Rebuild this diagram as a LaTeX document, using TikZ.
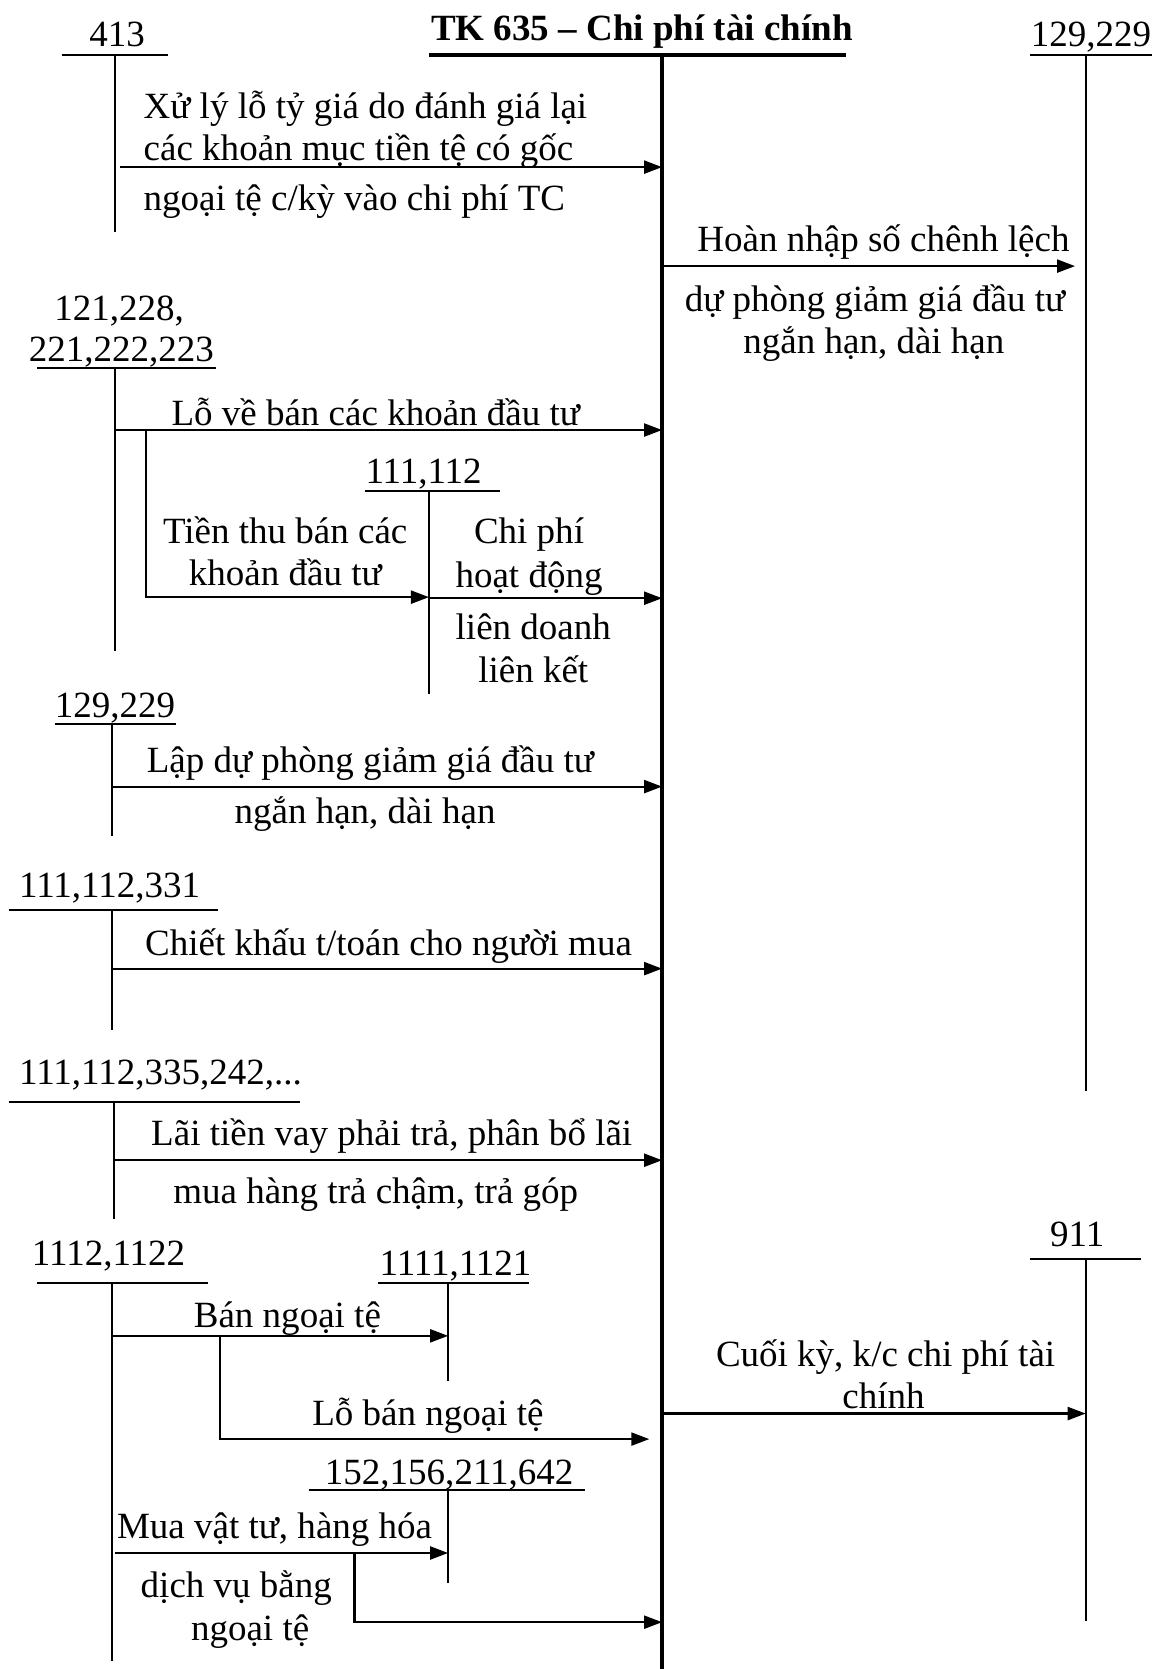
\documentclass[tikz,border=0pt]{standalone}
\usepackage{fontspec}
\setmainfont{Liberation Serif}
\usetikzlibrary{arrows.meta}
\begin{document}
\begin{tikzpicture}[x=1.0642pt,y=-1.0642pt,
  txt/.style={inner sep=0pt,outer sep=0pt,font=\fontsize{37}{42}\selectfont,anchor=base},
  txtl/.style={txt,anchor=base west},
  tl/.style={line width=2.2pt},
  tk/.style={line width=4pt},
  arr/.style={tl,-{Triangle[length=18pt,width=13pt]}}]
\useasboundingbox (0,0) rectangle (1090,1568);

% main account TK 635
\node[txt,font=\fontsize{37}{42}\selectfont\bfseries] (title) at (603,38) {TK 635 – Chi phí tài chính};
\coordinate (tL) at (403,52); \coordinate (tR) at (795,52);
\coordinate (mTop) at (622,52); \coordinate (mBot) at (622,1568);
\draw[tk] (tL) -- (tR);
\draw[tk] (mTop) -- (mBot);
\foreach \n/\y in {m1/157,m2/404,m3/562,m4/739,m5/910,m6/1090,m7/1524,m8/1328,m9/250}
  \coordinate (\n) at (622,\y);
\coordinate (m10) at (610,1352);

% 413
\node[txt] (a413) at (110,44) {413};
\coordinate (a413L) at (58,52); \coordinate (a413R) at (158,52);
\coordinate (a413T) at (108,52); \coordinate (a413B) at (108,218);
\draw[tl] (a413L) -- (a413R); \draw[tl] (a413T) -- (a413B);
\coordinate (a413o) at (113,157);
\draw[arr] (a413o) -- (m1);
\node[txtl] (t1a) at (135,111) {Xử lý lỗ tỷ giá do đánh giá lại};
\node[txtl] (t1b) at (135,151) {các khoản mục tiền tệ có gốc};
\node[txtl] (t1c) at (135,198) {ngoại tệ c/kỳ vào chi phí TC};

% 129,229 right
\node[txt] (r129) at (1025,44) {129,229};
\coordinate (r129L) at (968,52); \coordinate (r129R) at (1082,52);
\coordinate (r129T) at (1020,52); \coordinate (r129B) at (1020,1025);
\draw[tl] (r129L) -- (r129R); \draw[tl] (r129T) -- (r129B);
\coordinate (r129i) at (1010,250);
\draw[arr] (m9) -- (r129i);
\node[txt] (t2a) at (830,236) {Hoàn nhập số chênh lệch};
\node[txt] (t2b) at (822,293) {dự phòng giảm giá đầu tư};
\node[txt] (t2c) at (821,332) {ngắn hạn, dài hạn};

% 121,228, 221,222,223
\node[txt] (a121a) at (112,301) {121,228,};
\node[txt] (a121b) at (114,340) {221,222,223};
\coordinate (a121L) at (35,346); \coordinate (a121R) at (203,346);
\coordinate (a121T) at (108,346); \coordinate (a121B) at (108,612);
\draw[tl] (a121L) -- (a121R); \draw[tl] (a121T) -- (a121B);
\coordinate (a121o) at (108,404);
\draw[arr] (a121o) -- (m2);
\node[txt] (t3) at (353,400) {Lỗ về bán các khoản đầu tư};
\coordinate (br1) at (137,404); \coordinate (br1b) at (137,561);
\coordinate (a111i) at (403,561);
\draw[arr] (br1) -- (br1b) -- (a111i);
\node[txt] (t4a) at (268,511) {Tiền thu bán các};
\node[txt] (t4b) at (268,550) {khoản đầu tư};

% 111,112
\node[txt] (a111) at (398,454) {111,112};
\coordinate (a111L) at (343,461); \coordinate (a111R) at (470,461);
\coordinate (a111T) at (403,461); \coordinate (a111B) at (403,652);
\draw[tl] (a111L) -- (a111R); \draw[tl] (a111T) -- (a111B);
\coordinate (a111o) at (403,562);
\draw[arr] (a111o) -- (m3);
\node[txt] (t5a) at (497,511) {Chi phí};
\node[txt] (t5b) at (497,552) {hoạt động};
\node[txt] (t5c) at (501,601) {liên doanh};
\node[txt] (t5d) at (501,641) {liên kết};

% 129,229 left
\node[txt] (l129) at (108,674) {129,229};
\coordinate (l129L) at (52,680); \coordinate (l129R) at (165,680);
\coordinate (l129T) at (105,680); \coordinate (l129B) at (105,785);
\draw[tl] (l129L) -- (l129R); \draw[tl] (l129T) -- (l129B);
\coordinate (l129o) at (105,739);
\draw[arr] (l129o) -- (m4);
\node[txt] (t6a) at (348,726) {Lập dự phòng giảm giá đầu tư};
\node[txt] (t6b) at (343,774) {ngắn hạn, dài hạn};

% 111,112,331
\node[txtl] (a331) at (18,843) {111,112,331};
\coordinate (a331L) at (8,855); \coordinate (a331R) at (205,855);
\coordinate (a331T) at (105,855); \coordinate (a331B) at (105,968);
\draw[tl] (a331L) -- (a331R); \draw[tl] (a331T) -- (a331B);
\coordinate (a331o) at (105,910);
\draw[arr] (a331o) -- (m5);
\node[txt] (t7) at (365,898) {Chiết khấu t/toán cho người mua};

% 111,112,335,242,...
\node[txtl] (a335) at (18,1019) {111,112,335,242,...};
\coordinate (a335L) at (8,1035); \coordinate (a335R) at (282,1035);
\coordinate (a335T) at (107,1035); \coordinate (a335B) at (107,1145);
\draw[tl] (a335L) -- (a335R); \draw[tl] (a335T) -- (a335B);
\coordinate (a335o) at (107,1090);
\draw[arr] (a335o) -- (m6);
\node[txt] (t8a) at (368,1076) {Lãi tiền vay phải trả, phân bổ lãi};
\node[txt] (t8b) at (353,1131) {mua hàng trả chậm, trả góp};

% 1112,1122
\node[txt] (a1112) at (102,1189) {1112,1122};
\coordinate (a1112L) at (35,1205); \coordinate (a1112R) at (195,1205);
\coordinate (a1112T) at (105,1205); \coordinate (a1112B) at (105,1560);
\draw[tl] (a1112L) -- (a1112R); \draw[tl] (a1112T) -- (a1112B);

% 1111,1121
\node[txt] (a1111) at (428,1198) {1111,1121};
\coordinate (a1111L) at (355,1205); \coordinate (a1111R) at (497,1205);
\coordinate (a1111T) at (421,1205); \coordinate (a1111B) at (421,1297);
\draw[tl] (a1111L) -- (a1111R); \draw[tl] (a1111T) -- (a1111B);
\coordinate (a1112o) at (105,1255); \coordinate (a1111i) at (421,1255);
\draw[arr] (a1112o) -- (a1111i);
\node[txt] (t9) at (270,1247) {Bán ngoại tệ};
\coordinate (br2) at (207,1255); \coordinate (br2b) at (207,1352);
\draw[arr] (br2) -- (br2b) -- (m10);
\node[txt] (t10) at (402,1339) {Lỗ bán ngoại tệ};

% 152,156,211,642
\node[txt] (a152) at (422,1395) {152,156,211,642};
\coordinate (a152L) at (290,1400); \coordinate (a152R) at (550,1400);
\coordinate (a152T) at (421,1400); \coordinate (a152B) at (421,1487);
\draw[tl] (a152L) -- (a152R); \draw[tl] (a152T) -- (a152B);
\coordinate (a1112p) at (108,1459); \coordinate (a152i) at (421,1459);
\draw[arr] (a1112p) -- (a152i);
\node[txtl] (t11a) at (110,1445) {Mua vật tư, hàng hóa};
\coordinate (br3) at (333,1459); \coordinate (br3b) at (333,1524);
\draw[arr] (br3) -- (br3b) -- (m7);
\node[txt] (t11b) at (222,1501) {dịch vụ bằng};
\node[txt] (t11c) at (235,1541) {ngoại tệ};

% 911
\node[txt] (a911) at (1012,1171) {911};
\coordinate (a911L) at (968,1183); \coordinate (a911R) at (1072,1183);
\coordinate (a911T) at (1020,1183); \coordinate (a911B) at (1020,1523);
\draw[tl] (a911L) -- (a911R); \draw[tl] (a911T) -- (a911B);
\coordinate (a911i) at (1020,1328);
\draw[arr] (m8) -- (a911i);
\node[txt] (t12a) at (832,1284) {Cuối kỳ, k/c chi phí tài};
\node[txt] (t12b) at (830,1323) {chính};
\end{tikzpicture}
\end{document}
